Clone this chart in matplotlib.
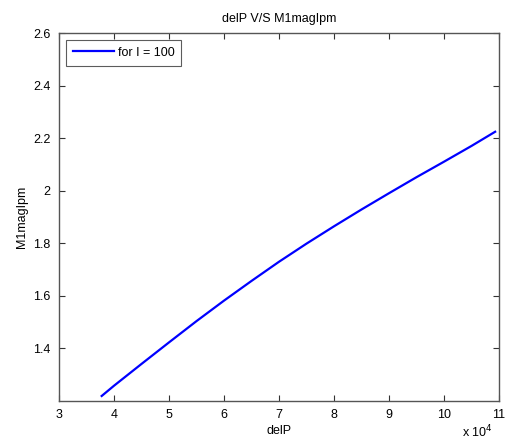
import matplotlib
matplotlib.use("Agg")
import matplotlib.pyplot as plt

plt.rcParams['font.family'] = ['Liberation Sans', 'DejaVu Sans']

# data
delP = [3.776e4, 4.0e4, 4.5e4, 5.0e4, 5.5e4, 6.0e4, 6.5e4, 7.0e4, 7.5e4,
        8.0e4, 8.5e4, 9.0e4, 9.5e4, 10.0e4, 10.5e4, 10.93e4]
M1magIpm = [1.218, 1.257, 1.340, 1.422, 1.503, 1.581, 1.656, 1.729, 1.798,
            1.864, 1.928, 1.990, 2.051, 2.110, 2.170, 2.224]
series_label = "for I = 100"
xticks = [3e4, 4e4, 5e4, 6e4, 7e4, 8e4, 9e4, 10e4, 11e4]
xticklabels = ["3", "4", "5", "6", "7", "8", "9", "10", "11"]
yticks = [1.4, 1.6, 1.8, 2.0, 2.2, 2.4, 2.6]
yticklabels = ["1.4", "1.6", "1.8", "2", "2.2", "2.4", "2.6"]

fig = plt.figure(figsize=(5.05, 4.41), dpi=100)
ax = fig.add_axes([59/505, 1-400.7/441, (499-59)/505, (400.7-33)/441])

ax.plot(delP, M1magIpm, color='#0000ff', linewidth=1.6, label=series_label)
ax.set_xlim(3e4, 11e4)
ax.set_ylim(1.2, 2.6)
ax.set_xticks(xticks)
ax.set_xticklabels(xticklabels)
ax.set_yticks(yticks)
ax.set_yticklabels(yticklabels)
ax.tick_params(direction='in', length=4, width=0.8, labelsize=9,
               top=True, right=True, color='#333333', pad=6)
for s in ax.spines.values():
    s.set_color('#555555')
    s.set_linewidth(1.0)

ax.set_title("delP V/S M1magIpm", fontsize=9, pad=8)
ax.set_xlabel("delP", fontsize=9, labelpad=3)
ax.set_ylabel("M1magIpm", fontsize=9, labelpad=4)
fig.text(493/505, 1/441, r"x 10$^4$", fontsize=9, ha='right', va='bottom')

leg = ax.legend(loc='upper left', fontsize=9, frameon=True, fancybox=False,
                borderaxespad=0.55, handlelength=3.3, handletextpad=0.3,
                borderpad=0.55)
leg.get_frame().set_edgecolor('#333333')
leg.get_frame().set_linewidth(0.8)

fig.savefig("out.png", dpi=100)
